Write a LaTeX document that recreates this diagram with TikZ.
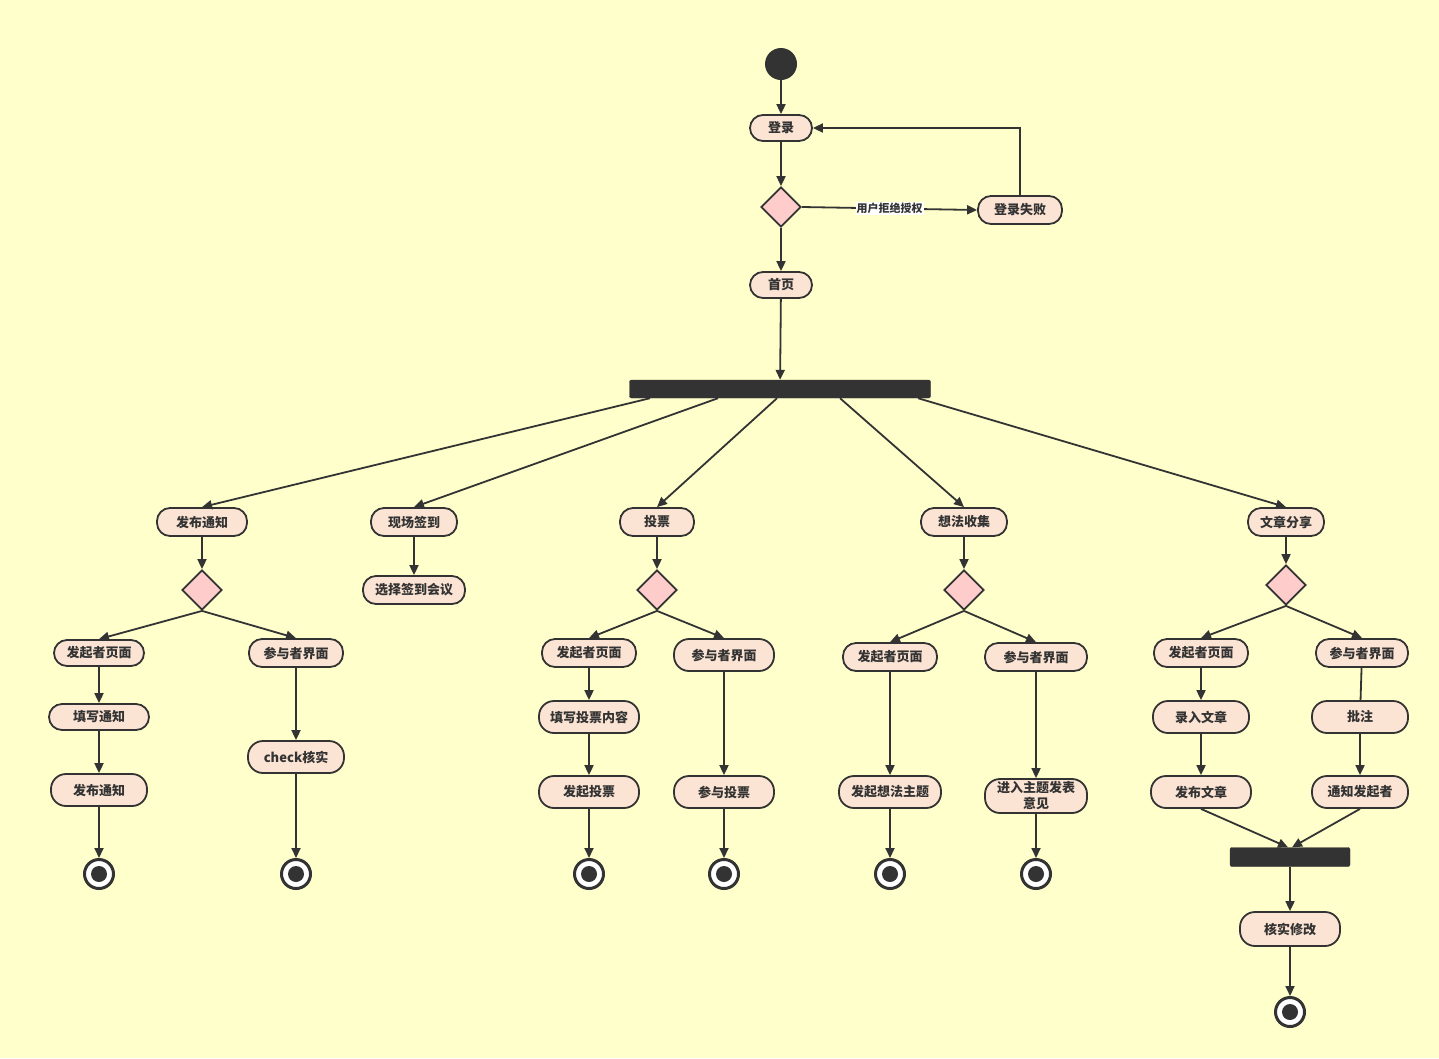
\documentclass[tikz,border=0pt]{standalone}
\usepackage{fontspec}
\setmainfont{Noto Sans CJK SC}
\usetikzlibrary{arrows.meta,shapes.geometric}

\begin{document}
\begin{tikzpicture}[x=1pt, y=-1pt,
  every node/.style={font=\bfseries\fontsize{13}{16}\selectfont, text=ink},
  act/.style={draw=ink, line width=1.8pt, fill=actfill, rounded corners=13pt,
    minimum height=28pt, inner sep=0pt},
  tall/.style={act, minimum height=32pt, rounded corners=15pt},
  choice/.style={diamond, draw=ink, line width=1.8pt, fill=choicefill,
    minimum size=40pt, inner sep=0pt},
  syncbar/.style={draw=ink, fill=ink, rounded corners=2pt, inner sep=0pt},
  flow/.style={draw=ink, line width=1.8pt, -{Triangle[length=10pt,width=9pt]}},
  endstate/.style={circle, draw=ink, line width=3pt, fill=white,
    minimum size=29pt, inner sep=0pt,
    path picture={\fill[ink] (path picture bounding box.center) circle (8pt);}}]

\definecolor{paper}{HTML}{FFFFCC}
\definecolor{ink}{HTML}{333333}
\definecolor{actfill}{HTML}{FCE4D4}
\definecolor{choicefill}{HTML}{FFCCCC}

% Canvas
\fill[paper] (0,0) rectangle (1439,1058);

% Login
\node[circle, fill=ink, minimum size=32pt] (start) at (781,64) {};
\node[act, minimum width=62pt, minimum height=26pt] (login) at (781,128) {登录};
\node[choice] (c0) at (781,207) {};
\node[act, minimum width=84pt] (fail) at (1020,210) {登录失败};
\node[act, minimum width=62pt, minimum height=26pt] (home) at (781,285) {首页};
\node[syncbar, minimum width=301pt, minimum height=18pt] (fork) at (780,389) {};

\draw[flow] (start) -- (login);
\draw[flow] (login) -- (c0);
\draw[flow] (c0.east) -- node[fill=white, inner sep=1pt,
    font=\bfseries\fontsize{11}{12}\selectfont] {用户拒绝授权} (fail.west);
\draw[flow] (fail.north) |- (login.east);
\draw[flow] (c0) -- (home);
\draw[flow] (home) -- (fork);

% Branches
\node[act, minimum width=90pt] (notice) at (202,522) {发布通知};
\node[act, minimum width=86pt] (sign)   at (414,522) {现场签到};
\node[act, minimum width=74pt] (vote)   at (657,522) {投票};
\node[act, minimum width=86pt] (idea)   at (964,522) {想法收集};
\node[act, minimum width=76pt] (share)  at (1286,522) {文章分享};

\draw[flow] ([xshift=-130pt]fork.south) -- (notice.north);
\draw[flow] ([xshift=-62pt]fork.south) -- (sign.north);
\draw[flow] ([xshift=-3pt]fork.south) -- (vote.north);
\draw[flow] ([xshift=60pt]fork.south) -- (idea.north);
\draw[flow] ([xshift=138pt]fork.south) -- (share.north);

% Notice
\node[choice] (c1) at (202,590) {};
\node[act, minimum width=90pt, minimum height=26pt] (na)  at (99,653) {发起者页面};
\node[act, minimum width=94pt] (nb)  at (296,653) {参与者界面};
\node[act, minimum width=100pt, minimum height=26pt] (na2) at (99,717) {填写通知};
\node[tall, minimum width=96pt] (na3) at (99,790) {发布通知};
\node[tall, minimum width=96pt] (nb2) at (296,757) {check核实};

\draw[flow] (notice) -- (c1);
\draw[flow] (c1.south) -- (na.north);
\draw[flow] (c1.south) -- (nb.north);
\draw[flow] (na) -- (na2);
\draw[flow] (na2) -- (na3);
\draw[flow] (nb) -- (nb2);

% Sign in
\node[act, minimum width=102pt] (signsel) at (414,590) {选择签到会议};
\draw[flow] (sign) -- (signsel);

% Vote
\node[choice] (c3) at (657,590) {};
\node[act, minimum width=94pt] (va)   at (589,653) {发起者页面};
\node[tall, minimum width=100pt] (vb)  at (724,655) {参与者界面};
\node[tall, minimum width=100pt] (va2) at (589,717) {填写投票内容};
\node[tall, minimum width=100pt] (va3) at (589,792) {发起投票};
\node[tall, minimum width=100pt] (vb2) at (724,792) {参与投票};

\draw[flow] (vote) -- (c3);
\draw[flow] (c3.south) -- (va.north);
\draw[flow] (c3.south) -- (vb.north);
\draw[flow] (va) -- (va2);
\draw[flow] (va2) -- (va3);
\draw[flow] (vb) -- (vb2);

% Ideas
\node[choice] (c4) at (964,590) {};
\node[act, minimum width=94pt]  (ia)  at (890,657) {发起者页面};
\node[act, minimum width=102pt] (ib)  at (1036,657) {参与者界面};
\node[tall, minimum width=102pt] (ia2) at (890,792) {发起想法主题};
\node[tall, minimum width=102pt, minimum height=34pt, align=center] (ib2)
  at (1036,796) {进入主题发表\\意见};

\draw[flow] (idea) -- (c4);
\draw[flow] (c4.south) -- (ia.north);
\draw[flow] (c4.south) -- (ib.north);
\draw[flow] (ia) -- (ia2);
\draw[flow] (ib) -- (ib2);

% Articles
\node[choice] (c5) at (1286,585) {};
\node[act, minimum width=94pt]  (sa)  at (1201,653) {发起者页面};
\node[act, minimum width=92pt]  (sb)  at (1362,653) {参与者界面};
\node[tall, minimum width=96pt]  (sa2) at (1201,717) {录入文章};
\node[tall, minimum width=100pt] (sa3) at (1201,792) {发布文章};
\node[tall, minimum width=96pt]  (sb2) at (1360,717) {批注};
\node[tall, minimum width=96pt]  (sb3) at (1360,792) {通知发起者};
\node[syncbar, minimum width=120pt, minimum height=19pt] (join) at (1290,857) {};
\node[tall, minimum width=100pt, minimum height=34pt] (check) at (1290,929) {核实修改};

\draw[flow] (share) -- (c5);
\draw[flow] (c5.south) -- (sa.north);
\draw[flow] (c5.south) -- (sb.north);
\draw[flow] (sa) -- (sa2);
\draw[flow] (sa2) -- (sa3);
\draw[flow, -] (sb) -- (sb2);
\draw[flow] (sb2) -- (sb3);
\draw[flow] (sa3.south) -- ([xshift=-2pt]join.north);
\draw[flow] (sb3.south) -- ([xshift=2pt]join.north);
\draw[flow] (join) -- (check);

% Final states
\foreach \src/\x/\y in {na3/99/874, nb2/296/874, va3/589/874, vb2/724/874,
                        ia2/890/874, ib2/1036/874, check/1290/1012}
{
     \node[endstate] (end-\src) at (\x,\y) {};
     \draw[flow] (\src) -- (end-\src);
}

\end{tikzpicture}
\end{document}
